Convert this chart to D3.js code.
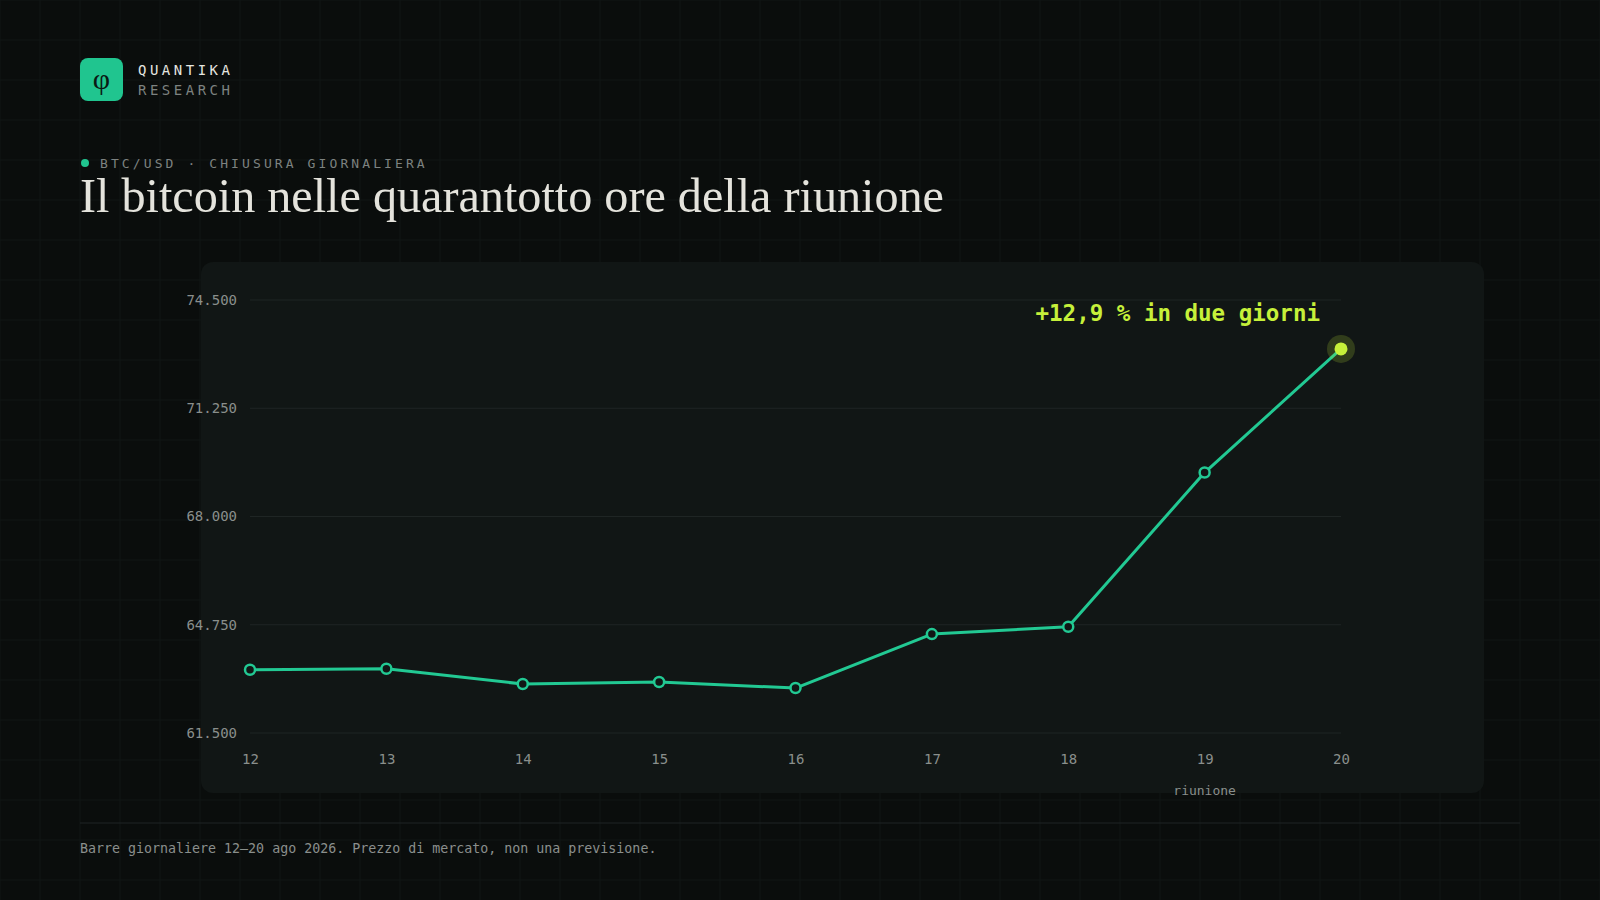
<!DOCTYPE html>
<html><head><meta charset="utf-8">
<script src="https://cdn.jsdelivr.net/npm/d3@7"></script>
<style>
html,body{margin:0;background:#0a0d0c;}
svg{display:block;}
</style></head>
<body><svg id="c" width="1600" height="900"></svg>
<script>
const days = [12, 13, 14, 15, 16, 17, 18, 19, 20];
const closes = [63400, 63430, 62970, 63030, 62850, 64470, 64690, 69320, 73030];
const yTicks = [61500, 64750, 68000, 71250, 74500];

const mono = "'DejaVu Sans Mono', monospace";
const svg = d3.select('#c');
const W = 1600, H = 900;

// faint background grid
const bg = svg.append('g');
bg.append('rect').attr('width', W).attr('height', H).attr('fill', '#0a0d0c');
for (let x = 0; x <= W; x += 40) bg.append('line').attr('x1', x).attr('x2', x).attr('y1', 0).attr('y2', H).attr('stroke', '#111715').attr('stroke-width', 1);
for (let y = 0; y <= H; y += 40) bg.append('line').attr('y1', y).attr('y2', y).attr('x1', 0).attr('x2', W).attr('stroke', '#111715').attr('stroke-width', 1);

// brand
svg.append('rect').attr('x', 80).attr('y', 58).attr('width', 43).attr('height', 43).attr('rx', 8).attr('fill', '#20c58f');
svg.append('text').attr('x', 101.5).attr('y', 89).attr('text-anchor', 'middle').attr('font-family', "'Liberation Serif', serif").attr('font-size', 30).attr('fill', '#0a1a14').text('φ');
svg.append('text').attr('x', 138).attr('y', 75).attr('font-family', mono).attr('font-size', 14).attr('letter-spacing', 3.5).attr('fill', '#e6e6e0').text('QUANTIKA');
svg.append('text').attr('x', 138).attr('y', 95).attr('font-family', mono).attr('font-size', 14).attr('letter-spacing', 3.5).attr('fill', '#7d8280').text('RESEARCH');

svg.append('circle').attr('cx', 85).attr('cy', 163).attr('r', 4).attr('fill', '#20c58f');
svg.append('text').attr('x', 100).attr('y', 168).attr('font-family', mono).attr('font-size', 13).attr('letter-spacing', 3.1).attr('fill', '#7d8280').text('BTC/USD · CHIUSURA GIORNALIERA');
svg.append('text').attr('x', 80).attr('y', 212).attr('font-family', "'Liberation Serif', Georgia, serif").attr('font-size', 48).attr('fill', '#e4e3dc')
  .attr('textLength', 864).attr('lengthAdjust', 'spacingAndGlyphs').text('Il bitcoin nelle quarantotto ore della riunione');

// panel
svg.append('rect').attr('x', 201).attr('y', 262).attr('width', 1283).attr('height', 531).attr('rx', 12).attr('fill', '#111615');

const x = d3.scaleLinear().domain([12, 20]).range([250, 1341]);
const y = d3.scaleLinear().domain([61500, 74500]).range([733, 300]);
const fmt = d3.formatLocale({decimal: ',', thousands: '.', grouping: [3], currency: ['€', '']}).format(',d');

const g = svg.append('g');
g.selectAll('line.grid').data(yTicks).join('line')
  .attr('x1', 250).attr('x2', 1341).attr('y1', d => y(d)).attr('y2', d => y(d))
  .attr('stroke', '#1f2524').attr('stroke-width', 1);

const yAxis = g.append('g').attr('transform', 'translate(250,0)')
  .call(d3.axisLeft(y).tickValues(yTicks).tickFormat(fmt).tickSize(0).tickPadding(13));
const xAxis = g.append('g').attr('transform', 'translate(0,733)')
  .call(d3.axisBottom(x).tickValues(days).tickFormat(d3.format('d')).tickSize(0).tickPadding(21));
[yAxis, xAxis].forEach(a => {
  a.select('.domain').remove();
  a.selectAll('text').attr('font-family', mono).attr('font-size', 14).attr('fill', '#8a8f8c');
});
g.append('text').attr('x', x(19)).attr('y', 795).attr('text-anchor', 'middle').attr('font-family', mono).attr('font-size', 13).attr('fill', '#8a8f8c').text('riunione');

const pts = days.map((d, i) => [d, closes[i]]);
g.append('path').datum(pts)
  .attr('d', d3.line().x(d => x(d[0])).y(d => y(d[1])))
  .attr('fill', 'none').attr('stroke', '#22c993').attr('stroke-width', 3).attr('stroke-linejoin', 'round');

g.selectAll('circle.pt').data(pts.slice(0, -1)).join('circle')
  .attr('cx', d => x(d[0])).attr('cy', d => y(d[1])).attr('r', 5)
  .attr('fill', '#111615').attr('stroke', '#22c993').attr('stroke-width', 2.5);

const last = pts[pts.length - 1];
g.append('circle').attr('cx', x(last[0])).attr('cy', y(last[1])).attr('r', 14).attr('fill', '#c6f03a').attr('opacity', 0.18);
g.append('circle').attr('cx', x(last[0])).attr('cy', y(last[1])).attr('r', 6.5).attr('fill', '#c6f03a');

const pct = (closes[8] / closes[6] - 1) * 100;
g.append('text').attr('x', 1320).attr('y', 321).attr('text-anchor', 'end')
  .attr('font-family', mono).attr('font-size', 22.5).attr('font-weight', 'bold').attr('fill', '#c6f03a')
  .text('+' + pct.toFixed(1).replace('.', ',') + ' % in due giorni');

// footer
svg.append('line').attr('x1', 80).attr('x2', 1520).attr('y1', 823).attr('y2', 823).attr('stroke', '#1f2524');
svg.append('text').attr('x', 80).attr('y', 853).attr('font-family', mono).attr('font-size', 13.3).attr('fill', '#8a8f8c').text('Barre giornaliere 12–20 ago 2026. Prezzo di mercato, non una previsione.');
</script></body></html>
